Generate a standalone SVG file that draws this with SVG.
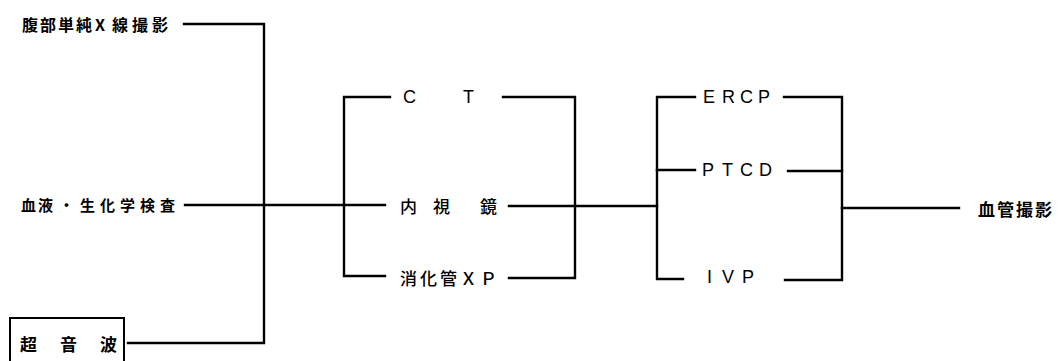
<svg xmlns="http://www.w3.org/2000/svg" width="1062" height="361" viewBox="0 0 1062 361">
<style>
.ln{stroke:#000;stroke-width:2.4;fill:none;stroke-linecap:square}
.jp{font-family:"Noto Sans CJK JP","Noto Sans CJK SC",sans-serif;font-weight:bold;fill:#000;dominant-baseline:central}
.jm{font-family:"Noto Sans CJK JP","Noto Sans CJK SC",sans-serif;font-weight:500;fill:#000;dominant-baseline:central}
.la{font-family:"Liberation Sans",Arial,sans-serif;fill:#000;dominant-baseline:central}
</style>
<rect width="1062" height="361" fill="#fff"/>
<g id="n-abdomen"><text class="jp" font-size="16" x="22 40 58 76 95 112 132 152" y="24">腹部単純X線撮影</text></g>
<g id="n-blood"><text class="jp" font-size="15" x="21 38 59 80 100 120 140 160" y="204">血液・生化学検査</text></g>
<g id="n-us"><rect x="10" y="318" width="114" height="50" fill="none" stroke="#000" stroke-width="2"/><text class="jp" font-size="17" x="20 60 100" y="343">超音波</text></g>
<g id="n-ct"><text class="la" font-size="18" x="403 463" y="97">CT</text></g>
<g id="n-endo"><text class="jm" font-size="17" x="400 433 480" y="205">内視鏡</text></g>
<g id="n-gi"><text class="jm" font-size="17" x="400 420 440 460 480" y="277">消化管ＸＰ</text></g>
<g id="n-ercp"><text class="la" font-size="18" x="703 722 740 758" y="97">ERCP</text></g>
<g id="n-ptcd"><text class="la" font-size="18" x="702 722 740 759" y="170">PTCD</text></g>
<g id="n-ivp"><text class="la" font-size="18" x="707 722 742" y="277">IVP</text></g>
<g id="n-angio"><text class="jp" font-size="17" x="978 997 1016 1035" y="208">血管撮影</text></g>
<g id="connectors">
<polyline class="ln" points="184,24 264,24 264,343 128,343"/>
<line class="ln" x1="185" y1="205" x2="385" y2="205"/>
<polyline class="ln" points="390,97 344,97 344,276 385,276"/>
<polyline class="ln" points="503,97 575,97 575,278 509,278"/>
<line class="ln" x1="509" y1="206" x2="657" y2="206"/>
<polyline class="ln" points="695,97 657,97 657,279 683,279"/>
<line class="ln" x1="657" y1="170" x2="695" y2="170"/>
<polyline class="ln" points="784,97 842,97 842,280 785,280"/>
<line class="ln" x1="788" y1="171" x2="842" y2="171"/>
<line class="ln" x1="842" y1="208" x2="959" y2="208"/>
</g>
</svg>
